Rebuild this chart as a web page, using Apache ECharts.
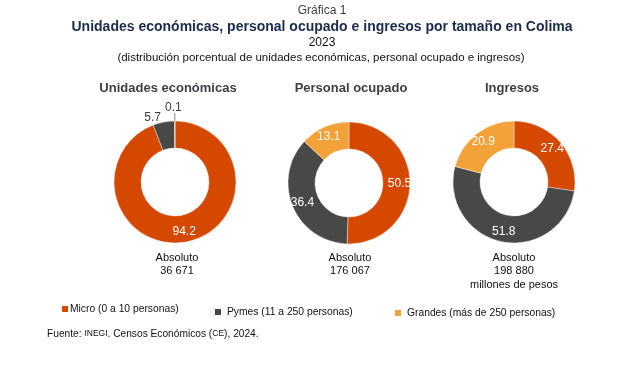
<!DOCTYPE html>
<html><head><meta charset="utf-8">
<script src="https://cdn.jsdelivr.net/npm/echarts@6/dist/echarts.min.js"></script>
<style>html,body{margin:0;padding:0;background:#fff}#c{width:644px;height:367px}</style>
</head><body><div id="c"></div>
<script>
const categories = ['Micro (0 a 10 personas)', 'Pymes (11 a 250 personas)', 'Grandes (más de 250 personas)'];
const panelTitles = ['Unidades económicas', 'Personal ocupado', 'Ingresos'];
const unidades = [94.2, 5.7, 0.1];
const personal = [50.5, 36.4, 13.1];
const ingresos = [27.4, 51.8, 20.9];
const absoluteNotes = ['Absoluto\n36 671', 'Absoluto\n176 067', 'Absoluto\n198 880\nmillones de pesos'];
const titleLine1 = 'Gráfica 1';
const titleLine2 = 'Unidades económicas, personal ocupado e ingresos por tamaño en Colima';
const titleLine3 = '2023';
const titleLine4 = '(distribución porcentual de unidades económicas, personal ocupado e ingresos)';

const FONT = '"Liberation Sans", Arial, sans-serif';
const colors = ['#D54800', '#484846', '#F3A23A'];
const centers = [[175, 182], [349, 183], [514, 182]];
const textGray = '#404040';

function makeData(vals, small) {
  return vals.map(function (v, i) {
    const d = { name: categories[i], value: v };
    if (small && small[i]) {
      d.label = Object.assign({ position: 'outside', color: textGray, fontSize: 12 }, small[i].label);
      d.labelLine = small[i].labelLine;
    }
    return d;
  });
}

const seriesVals = [unidades, personal, ingresos];
const smallCfg = [
  {
    1: { label: { distanceToLabelLine: 2 }, labelLine: { show: false, length: 4, length2: 0 } },
    2: { label: { distanceToLabelLine: 0 }, labelLine: { show: true, length: 8, length2: 0, lineStyle: { color: '#8a8a8a', width: 1 } } }
  },
  null, null
];

const series = seriesVals.map(function (vals, k) {
  const s = {
    type: 'pie',
    center: centers[k],
    radius: [34, 61],
    startAngle: 90,
    clockwise: true,
    avoidLabelOverlap: false,
    animation: false,
    silent: true,
    itemStyle: { borderColor: '#ffffff', borderWidth: 0.4 },
    label: {
      show: true, position: 'inside', color: '#ffffff', fontSize: 12, fontFamily: FONT,
      formatter: function (p) { return p.value.toFixed(1); }
    },
    labelLine: { show: false },
    data: makeData(vals, smallCfg[k])
  };
  if (k === 0) {
    s.labelLayout = function (p) {
      if (p.dataIndex === 2) return { dx: 7, dy: -5 };
      return {};
    };
  }
  return s;
});

const graphics = [];
function txt(text, x, y, size, weight, color, vAlign, lh) {
  graphics.push({
    type: 'text', x: x, y: y, silent: true,
    style: {
      text: text, fill: color, font: (weight || 'normal') + ' ' + size + 'px ' + FONT,
      align: 'center', verticalAlign: vAlign || 'middle', lineHeight: lh
    }
  });
}
txt(titleLine1, 322, 11, 12, 'normal', textGray);
txt(titleLine2, 322, 27, 14, 'bold', '#1C2B4B');
txt(titleLine3, 322, 43, 12, 'normal', '#111111');
txt(titleLine4, 321, 58, 11.5, 'normal', '#111111');
const titleX = [168, 351, 512];
panelTitles.forEach(function (t, i) { txt(t, titleX[i], 88, 13, 'bold', '#3C3F44'); });
const noteX = [177, 350, 514];
absoluteNotes.forEach(function (t, i) { txt(t, noteX[i], 251, 11, 'normal', '#111111', 'top', 13.5); });

graphics.push({
  type: 'text', x: 47, y: 334, silent: true,
  style: {
    text: '{a|Fuente: }{s|INEGI}{a|. Censos Económicos (}{s|CE}{a|), 2024.}',
    verticalAlign: 'middle', align: 'left',
    rich: {
      a: { fontSize: 10.2, fontFamily: FONT, fill: '#111111' },
      s: { fontSize: 8.5, fontFamily: FONT, fill: '#111111' }
    }
  }
});

function leg(name, left, top, pad) {
  return {
    data: [name], left: left, top: top, icon: 'rect', itemWidth: 8, itemHeight: 8,
    selectedMode: false, padding: 0,
    textStyle: { fontSize: 10.3, fontFamily: FONT, color: '#111111', padding: pad || 0 }
  };
}

const option = {
  backgroundColor: '#ffffff',
  color: colors,
  legend: [
    leg(categories[0], 60, 304, [0, 0, 0, -4]),
    leg(categories[1], 213, 307, [0, 0, 0, 0]),
    leg(categories[2], 393, 308, [0, 0, 0, 0])
  ],
  series: series,
  graphic: graphics
};

const chart = echarts.init(document.getElementById('c'), null, { renderer: 'canvas' });
chart.setOption(option);
</script></body></html>
